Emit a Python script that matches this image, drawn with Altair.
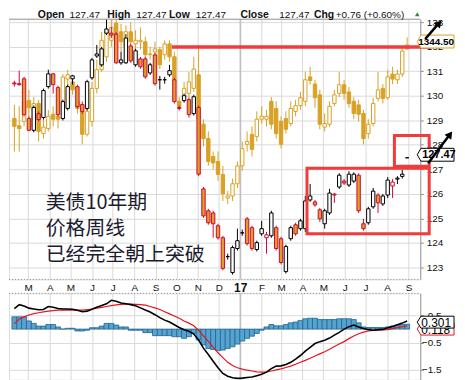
import altair as alt
import pandas as pd
import numpy as np

# ---------------- data ----------------
first_week = "2016-02-10"
n_weeks = 82

bond_open = [130.52,130.49,130.69,129.07,128.59,129.27,129.11,130.37,130.89,130.33,
             129.07,129.48,130.69,130.37,129.64,129.48,130.73,131.62,131.26,132.72,
             132.55,132.51,131.34,131.34,132.03,131.26,131.50,131.50,131.26,131.66,
             130.65,130.65,131.02,130.65,129.52,129.80,129.84,129.27,129.52,126.20,
             125.31,125.22,124.70,124.21,123.44,122.79,123.77,124.41,124.98,124.62,
             123.73,124.58,124.21,124.29,124.62,124.17,122.83,124.17,124.74,124.90,
             124.58,125.75,125.67,125.35,124.78,125.22,125.99,126.28,126.52,126.36,
             126.52,126.76,124.78,124.82,125.47,125.95,125.59,125.95,126.32,126.60,
             126.80,127.47]
bond_high = [130.61,131.02,130.77,129.15,129.60,129.36,130.29,131.06,130.93,130.41,
             129.84,130.45,130.85,130.45,129.76,130.65,131.54,132.07,131.99,133.16,
             132.80,132.59,131.79,132.51,132.11,131.91,131.58,131.58,131.34,131.74,
             130.81,130.77,131.26,130.73,129.60,130.09,129.92,130.04,129.60,126.28,
             125.39,125.31,124.78,124.29,123.56,123.89,124.58,124.54,125.06,124.70,
             124.09,124.90,124.45,125.31,124.70,124.25,123.93,124.70,124.82,124.98,
             125.91,126.40,125.75,125.43,125.39,126.20,126.03,126.84,126.60,126.92,
             126.88,126.84,124.98,125.47,126.24,126.03,125.99,126.68,126.60,126.72,
             126.97,127.47]
bond_low = [130.37,130.41,129.15,128.55,128.51,128.95,129.03,130.29,130.09,129.15,
            128.99,129.40,130.45,129.48,129.27,129.40,130.65,131.54,131.18,132.47,
            132.35,131.30,131.26,131.30,131.34,131.18,131.10,130.69,130.85,130.41,
            130.25,130.49,130.77,129.68,129.40,129.72,129.11,129.19,126.72,125.02,
            124.74,124.21,124.13,122.88,123.32,122.71,123.69,124.29,123.89,123.69,
            123.65,124.29,123.56,124.21,123.69,123.12,122.75,124.09,124.29,124.50,
            124.45,125.67,125.47,124.86,124.58,125.14,125.63,126.20,126.36,126.28,
            126.44,125.22,124.50,124.74,125.39,125.22,125.51,125.83,125.83,126.40,
            126.62,127.47]
bond_close = [130.48,130.45,129.23,128.59,129.52,129.03,130.21,130.89,130.45,129.23,
              129.76,130.37,130.81,129.56,129.36,130.57,131.46,131.70,131.91,132.55,
              132.47,131.34,131.46,132.35,131.42,131.83,131.18,130.77,130.93,130.49,
              130.65,130.65,130.85,129.76,129.48,130.00,129.23,129.96,126.80,125.10,
              124.82,124.78,124.21,122.96,123.44,123.81,124.09,124.41,123.97,123.77,
              124.01,124.37,124.33,125.22,123.77,123.20,123.85,124.62,124.37,124.58,
              125.71,125.91,125.55,124.98,125.31,126.03,125.95,126.76,126.44,126.80,
              126.80,125.31,124.58,125.39,126.11,125.63,125.91,126.56,126.48,126.64,
              126.71,127.47]

gold_open = [1242,1232,1238,1267,1230,1263,1221,1228,1248,1245,
             1266,1297,1293,1266,1252,1220,1238,1284,1310,1328,
             1351,1375,1363,1342,1363,1346,1349,1349,1331,1335,
             1338,1331,1346,1328,1266,1272,1277,1284,1303,1234,
             1214,1189,1182,1164,1131,1134,1151,1176,1206,1220,
             1217,1241,1241,1266,1256,1238,1242,1235,1252,1260,
             1266,1300,1290,1275,1230,1234,1263,1277,1289,1279,
             1266,1261,1249,1221,1235,1270,1284,1271,1304,1296,
             1304,1339]
gold_high = [1261,1259,1277,1282,1272,1268,1241,1254,1259,1254,
             1304,1310,1300,1277,1261,1261,1293,1324,1363,1376,
             1380,1380,1374,1372,1376,1365,1369,1356,1342,1349,
             1342,1351,1351,1335,1272,1293,1307,1328,1344,1241,
             1224,1196,1196,1176,1141,1158,1182,1210,1224,1231,
             1252,1259,1254,1272,1266,1245,1252,1266,1268,1279,
             1307,1314,1296,1282,1249,1266,1282,1307,1296,1286,
             1272,1268,1254,1241,1271,1307,1290,1310,1314,1310,
             1342,1355]
gold_low = [1196,1196,1231,1238,1224,1210,1214,1224,1231,1228,
            1260,1279,1275,1249,1206,1217,1231,1277,1307,1321,
            1342,1351,1335,1335,1339,1338,1338,1324,1324,1328,
            1311,1324,1321,1290,1254,1266,1271,1279,1238,1203,
            1176,1171,1155,1127,1123,1127,1145,1169,1196,1189,
            1210,1235,1231,1227,1214,1200,1221,1231,1245,1254,
            1259,1289,1257,1227,1224,1230,1259,1272,1268,1257,
            1241,1238,1206,1214,1231,1266,1263,1268,1290,1290,
            1300,1338]
gold_close = [1231,1228,1266,1257,1263,1224,1230,1245,1241,1241,
              1300,1303,1282,1256,1220,1252,1284,1310,1351,1363,
              1369,1360,1349,1363,1349,1351,1351,1331,1332,1339,
              1317,1346,1328,1296,1259,1284,1293,1311,1241,1214,
              1182,1180,1164,1137,1134,1151,1176,1200,1210,1199,
              1241,1245,1245,1234,1221,1206,1227,1256,1260,1271,
              1296,1295,1271,1234,1235,1259,1275,1289,1277,1263,
              1249,1248,1214,1234,1263,1282,1270,1300,1297,1304,
              1336,1344.5]

macd_line = [0.75,0.90,0.85,0.77,0.74,0.71,0.72,0.83,0.80,0.76,
             0.74,0.74,0.73,0.69,0.64,0.66,0.73,0.80,0.87,0.93,
             1.06,1.02,0.96,0.93,0.90,0.86,0.78,0.70,0.63,0.53,
             0.42,0.33,0.26,0.16,0.06,-0.02,-0.08,-0.18,-0.40,-0.70,
             -0.93,-1.18,-1.42,-1.63,-1.73,-1.79,-1.81,-1.80,-1.78,-1.76,
             -1.71,-1.66,-1.58,-1.45,-1.36,-1.35,-1.30,-1.22,-1.10,-0.97,
             -0.81,-0.67,-0.53,-0.46,-0.41,-0.33,-0.22,-0.12,0.00,0.09,
             0.15,0.08,0.02,-0.02,-0.04,-0.02,-0.01,0.05,0.10,0.16,
             0.22,0.30]
macd_signal = [0.20,0.37,0.45,0.52,0.57,0.60,0.63,0.66,0.68,0.70,
               0.70,0.70,0.70,0.70,0.70,0.72,0.74,0.77,0.80,0.83,
               0.86,0.89,0.91,0.92,0.92,0.91,0.90,0.88,0.83,0.78,
               0.72,0.64,0.56,0.48,0.40,0.30,0.22,0.12,-0.05,-0.25,
               -0.45,-0.66,-0.87,-1.05,-1.22,-1.34,-1.42,-1.47,-1.51,-1.54,
               -1.57,-1.58,-1.57,-1.54,-1.50,-1.46,-1.41,-1.36,-1.29,-1.22,
               -1.15,-1.07,-0.99,-0.91,-0.83,-0.74,-0.64,-0.55,-0.46,-0.35,
               -0.25,-0.17,-0.11,-0.07,-0.05,-0.04,-0.03,-0.02,0.02,0.06,
               0.09,0.12]
macd_hist = [0.45,0.45,0.45,0.30,0.21,0.11,0.11,0.17,0.17,0.08,
             0.00,0.03,0.03,-0.07,-0.07,-0.04,0.05,0.05,0.11,0.21,
             0.21,0.15,0.08,0.08,-0.04,-0.04,-0.04,-0.13,-0.13,-0.24,
             -0.24,-0.24,-0.24,-0.28,-0.28,-0.34,-0.28,-0.16,-0.40,-0.58,
             -0.71,-0.75,-0.79,-0.77,-0.71,-0.65,-0.55,-0.44,-0.34,-0.26,
             -0.16,-0.04,0.08,0.17,0.12,0.12,0.17,0.23,0.26,0.32,
             0.38,0.40,0.40,0.35,0.35,0.35,0.35,0.38,0.38,0.38,
             0.35,0.23,0.08,0.06,0.06,0.06,0.06,0.08,0.11,0.15,
             0.17,0.18]

header_parts = [("Open", "bold"), ("127.47", "normal"), ("High", "bold"), ("127.47", "normal"),
                ("Low", "bold"), ("127.47", "normal"), ("Close", "bold"), ("127.47", "normal"),
                ("Chg", "bold"), ("+0.76 (+0.60%)", "normal")]
cn_lines = ["美债10年期", "价格周线", "已经完全朝上突破"]
gold_last_label = "1344.50"
bond_last_label = "127.47"
macd_label = "0.301"
signal_label = "0.118"

# ---------------- styling ----------------
GOLD = "#D9A125"
RED = "#D5063A"
ANN_RED = "#F23B3B"
GRID = "#DADADA"
W = 414
H_MAIN = 262
H_MACD = 87
FONT = "Arial, Liberation Sans, sans-serif"

weeks = pd.date_range(first_week, periods=n_weeks, freq="7D")
df = pd.DataFrame({
    "date": [d.strftime("%Y-%m-%dT00:00:00") for d in weeks],
    "bo": bond_open, "bh": bond_high, "bl": bond_low, "bc": bond_close,
    "go": gold_open, "gh": gold_high, "gl": gold_low, "gc": gold_close,
    "macd": macd_line, "sig": macd_signal, "hist": macd_hist,
})
prev_close = df["bc"].shift(1).fillna(df["bo"])
df["bcol"] = np.where(df["bc"] >= prev_close, "up", "down")
df["bfill"] = np.where(df["bc"] > df["bo"], "hollow", df["bcol"])
df["gfill"] = np.where(df["gc"] > df["go"], "hollow", "solid")

x_scale = alt.Scale(domain=[alt.DateTime(year=2016, month=2, date=9, hours=9, minutes=36),
                            alt.DateTime(year=2017, month=9, date=10, hours=19)])
month_vals = []
for y, m in [(2016, m) for m in range(3, 13)] + [(2017, m) for m in range(1, 10)]:
    month_vals.append(alt.DateTime(year=y, month=m, date=1))

x_axis_main = alt.Axis(
    values=month_vals, grid=True, gridColor=GRID, gridWidth=1, ticks=False, domain=False,
    title=None, labelFlush=False, labelOverlap=False, labelPadding=3, labelColor="#111",
    labelFont=FONT,
    labelExpr="month(datum.value) == 0 ? '17' : substring(timeFormat(datum.value, '%b'), 0, 1)",
    labelFontWeight={"condition": {"test": "month(datum.value) == 0", "value": "bold"}, "value": "normal"},
    labelFontSize={"condition": {"test": "month(datum.value) == 0", "value": 12}, "value": 10},
)
x_axis_macd = alt.Axis(values=month_vals, grid=True, gridColor=GRID, labels=False, ticks=False,
                       domain=False, title=None)

bond_scale = alt.Scale(domain=[122.51, 133.12], zero=False, nice=False)
gold_scale = alt.Scale(domain=[1017.6, 1380.5], zero=False, nice=False)
bond_axis = alt.Axis(orient="right", values=list(range(123, 134)), grid=True, gridColor=GRID,
                     tickSize=3, tickColor="#888", domainColor="#9a9a9a", labelFontSize=10,
                     labelPadding=3, labelColor="#111", labelFont=FONT, title=None, format="d",
                     labelOverlap=False, labelFlush=False)

X = alt.X("date:T", scale=x_scale, axis=x_axis_main)
base = alt.Chart(df)
one = pd.DataFrame({"k": [0]})

gold_wick = base.mark_rule(color=GOLD, strokeWidth=1, clip=True).encode(
    x=X, y=alt.Y("gl:Q", scale=gold_scale, axis=None), y2="gh:Q")
gold_body = base.mark_bar(size=3.4, strokeWidth=1, stroke=GOLD, clip=True).encode(
    x=X, y=alt.Y("go:Q", scale=gold_scale, axis=None), y2="gc:Q",
    fill=alt.Fill("gfill:N", scale=alt.Scale(domain=["hollow", "solid"], range=["white", GOLD]), legend=None))
bond_wick = base.mark_rule(strokeWidth=1, clip=True).encode(
    x=X, y=alt.Y("bl:Q", scale=bond_scale, axis=None), y2="bh:Q",
    color=alt.Color("bcol:N", scale=alt.Scale(domain=["up", "down"], range=["black", RED]), legend=None))
bond_body = base.mark_bar(size=3.4, strokeWidth=1, clip=True).encode(
    x=X, y=alt.Y("bo:Q", scale=bond_scale, axis=bond_axis), y2="bc:Q",
    fill=alt.Fill("bfill:N", scale=alt.Scale(domain=["hollow", "up", "down"], range=["white", "black", RED]), legend=None),
    stroke=alt.Stroke("bcol:N", scale=alt.Scale(domain=["up", "down"], range=["black", RED]), legend=None))

year_line = alt.Chart(pd.DataFrame({"d": ["2017-01-01T00:00:00"]})).mark_rule(color="#aaaaaa", strokeWidth=1).encode(
    x=alt.X("d:T", scale=x_scale, axis=x_axis_main))

top_border = alt.Chart(one).mark_rule(color="#9a9a9a", strokeWidth=1).encode(
    x=alt.value(0), x2=alt.value(W), y=alt.value(0))
bottom_border = alt.Chart(one).mark_rule(color="#8a8a8a", strokeWidth=1, strokeDash=[1, 2]).encode(
    x=alt.value(0), x2=alt.value(W), y=alt.value(H_MAIN))

# annotations (pixel positions inside the price panel)
res_line = alt.Chart(one).mark_rule(color=ANN_RED, strokeWidth=3.5).encode(
    x=alt.value(164), x2=alt.value(425), y=alt.value(28))
box1 = alt.Chart(one).mark_rect(filled=False, stroke=ANN_RED, strokeWidth=3).encode(
    x=alt.value(300), x2=alt.value(423), y=alt.value(150), y2=alt.value(216))
box2 = alt.Chart(one).mark_rect(filled=False, stroke=ANN_RED, strokeWidth=3).encode(
    x=alt.value(388), x2=alt.value(423), y=alt.value(117), y2=alt.value(148))
arrow1 = alt.Chart(one).mark_rule(color="black", strokeWidth=2.5).encode(
    x=alt.value(419), x2=alt.value(432), y=alt.value(20), y2=alt.value(5))
arrow1_head = alt.Chart(one).mark_point(shape="triangle-up", filled=True, color="black", size=70, angle=41, opacity=1).encode(
    x=alt.value(433), y=alt.value(4))
arrow2 = alt.Chart(one).mark_rule(color="black", strokeWidth=2.5).encode(
    x=alt.value(422), x2=alt.value(443), y=alt.value(145), y2=alt.value(117))
arrow2_head = alt.Chart(one).mark_point(shape="triangle-up", filled=True, color="black", size=70, angle=37, opacity=1).encode(
    x=alt.value(444), y=alt.value(116))

def tag_shape(w, h):
    r = h / w
    return f"M-1,0L-0.8,{-r:.3f}L1,{-r:.3f}L1,{r:.3f}L-0.8,{r:.3f}Z"

# tags: right edge kept at x = 448 so the drawing stays inside the window
gold_tag = alt.Chart(one).mark_point(shape=tag_shape(37, 13), size=37 * 37, filled=True, fill="white",
                                     stroke=GOLD, strokeWidth=1, opacity=1).encode(x=alt.value(429.5), y=alt.value(22.5))
gold_tag_text = alt.Chart(one).mark_text(text=gold_last_label, align="left", baseline="middle", fontSize=10,
                                         fontWeight="bold", font=FONT, color="black").encode(x=alt.value(412), y=alt.value(23))
bond_tag = alt.Chart(one).mark_point(shape=tag_shape(37, 13), size=37 * 37, filled=True, fill="white",
                                     stroke="black", strokeWidth=1, opacity=1).encode(x=alt.value(429.5), y=alt.value(136.5))
bond_tag_text = alt.Chart(one).mark_text(text=bond_last_label, align="left", baseline="middle", fontSize=11,
                                         fontWeight="bold", font=FONT, color="black").encode(x=alt.value(416), y=alt.value(137))

header_x = [29, 61, 99, 128, 161, 188, 233, 272, 307, 329]
header_layers = []
for (txt, wt), hx in zip(header_parts, header_x):
    header_layers.append(alt.Chart(one).mark_text(text=txt, align="left", baseline="alphabetic",
                                                  fontSize=10.5 if wt == "bold" else 10,
                                                  fontWeight=wt, font=FONT, color="#111").encode(
        x=alt.value(hx), y=alt.value(-1)))
header_tri = alt.Chart(one).mark_point(shape="triangle-up", filled=True, color="#2E8B3E", size=22, opacity=1).encode(
    x=alt.value(411), y=alt.value(-5))

cn_layers = []
for txt, cy in zip(cn_lines, [185, 211, 237]):
    cn_layers.append(alt.Chart(one).mark_text(text=txt, align="left", baseline="middle", fontSize=20,
                                              font="Noto Sans CJK SC", color="#1c1c30").encode(
        x=alt.value(37), y=alt.value(cy)))

main = alt.layer(
    year_line, gold_wick, gold_body, bond_wick, bond_body, top_border, bottom_border,
    res_line, box1, box2, gold_tag, gold_tag_text, bond_tag, bond_tag_text,
    arrow1, arrow1_head, arrow2, arrow2_head, header_tri, *header_layers, *cn_layers
).resolve_scale(y="independent").properties(width=W, height=H_MAIN)

# ---------------- MACD panel ----------------
macd_scale = alt.Scale(domain=[-1.861, 1.314], zero=False, nice=False)
macd_axis = alt.Axis(orient="right", values=[-1.5, -1.0, -0.5, 0.0, 0.5, 1.0], format=".1f", grid=True,
                     gridColor=GRID, tickSize=3, tickColor="#888", domainColor="#9a9a9a", labelFontSize=10,
                     labelAlign="right", labelPadding=18, labelColor="#111", labelFont=FONT, title=None,
                     labelOverlap=False, labelFlush=False)
XM = alt.X("date:T", scale=x_scale, axis=x_axis_macd)
mbase = alt.Chart(df)
hist = mbase.mark_bar(size=5, color="#55A3D0", stroke="#23648E", strokeWidth=0.8, clip=True).encode(
    x=XM, y=alt.Y("hist:Q", scale=macd_scale, axis=macd_axis))
sig = mbase.mark_line(color="#E8141E", strokeWidth=1.2, clip=True).encode(
    x=XM, y=alt.Y("sig:Q", scale=macd_scale))
mac = mbase.mark_line(color="black", strokeWidth=1.6, clip=True).encode(
    x=XM, y=alt.Y("macd:Q", scale=macd_scale))
year_line_m = alt.Chart(pd.DataFrame({"d": ["2017-01-01T00:00:00"]})).mark_rule(color="#aaaaaa", strokeWidth=1).encode(
    x=alt.X("d:T", scale=x_scale, axis=x_axis_macd))
m_top = alt.Chart(one).mark_rule(color="#8a8a8a", strokeWidth=1, strokeDash=[1, 2]).encode(
    x=alt.value(0), x2=alt.value(W), y=alt.value(0))
sig_tag = alt.Chart(one).mark_point(shape=tag_shape(37, 12), size=37 * 37, filled=True, fill="white",
                                    stroke="#E8141E", strokeWidth=1, opacity=1).encode(x=alt.value(429.5), y=alt.value(36))
sig_tag_text = alt.Chart(one).mark_text(text=signal_label, align="left", baseline="middle", fontSize=12,
                                        font=FONT, color="black").encode(x=alt.value(415), y=alt.value(36.5))
macd_tag = alt.Chart(one).mark_point(shape=tag_shape(37, 12), size=37 * 37, filled=True, fill="white",
                                     stroke="black", strokeWidth=1, opacity=1).encode(x=alt.value(429.5), y=alt.value(29))
macd_tag_text = alt.Chart(one).mark_text(text=macd_label, align="left", baseline="middle", fontSize=12,
                                         font=FONT, color="black").encode(x=alt.value(415), y=alt.value(29.5))

macd = alt.layer(year_line_m, hist, sig, mac, m_top, sig_tag, sig_tag_text, macd_tag, macd_tag_text).properties(
    width=W, height=H_MACD)

chart = alt.vconcat(main, macd, spacing=14, bounds="flush").properties(padding=0).configure_view(
    stroke=None).configure(font=FONT)

chart.save("out.html", embed_options={"renderer": "svg", "actions": False})
